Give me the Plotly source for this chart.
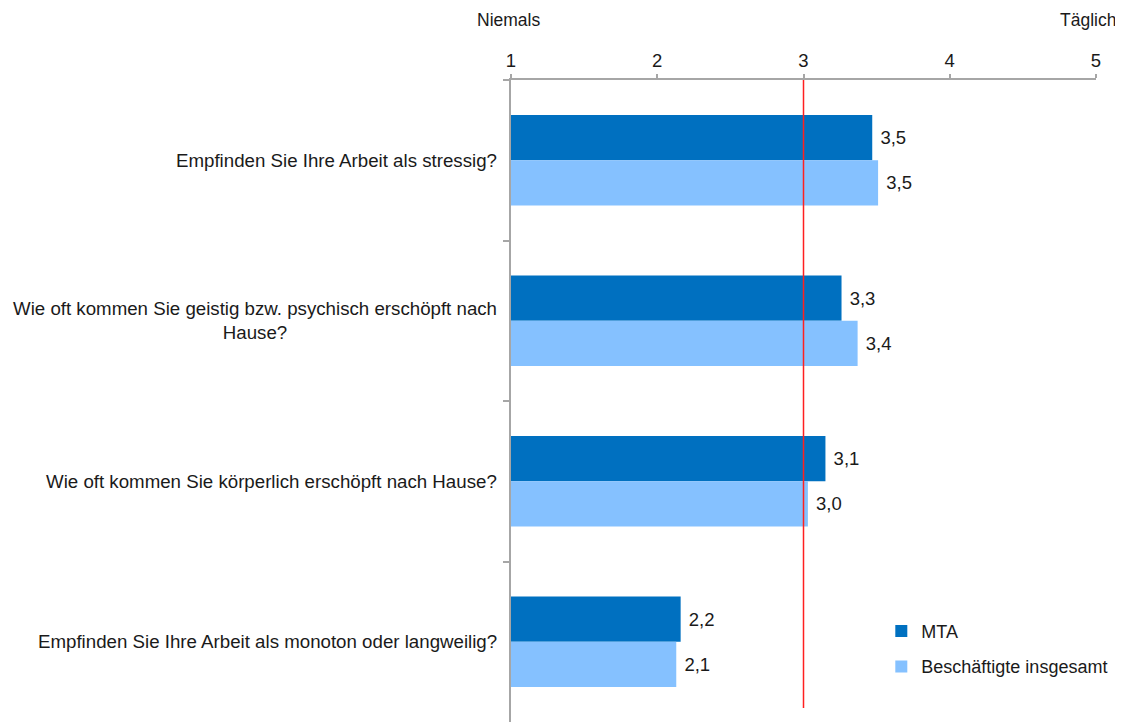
import plotly.graph_objects as go

categories = [
    "Empfinden Sie Ihre Arbeit als stressig?",
    "Wie oft kommen Sie geistig bzw. psychisch erschöpft nach<br>Hause?",
    "Wie oft kommen Sie körperlich erschöpft nach Hause?",
    "Empfinden Sie Ihre Arbeit als monoton oder langweilig?",
]
mta = [3.47, 3.26, 3.15, 2.16]
gesamt = [3.51, 3.37, 3.03, 2.13]
series_names = ["MTA", "Beschäftigte insgesamt"]
x_ticks = [1, 2, 3, 4, 5]
reference_value = 3
scale_labels = {1: "Niemals", 5: "Täglich"}

FONT = "Liberation Sans, Arial, sans-serif"
TXT = "#1a1a1a"

fig = go.Figure()
fig.add_trace(go.Bar(
    y=categories, x=mta, orientation="h", name=series_names[0],
    marker=dict(color="#0070C0", line=dict(width=0)),
    texttemplate=" %{x:.1f}", textposition="outside",
    textfont=dict(size=18.5, color=TXT, family=FONT), cliponaxis=False,
    legendgroup="a",
))
fig.add_trace(go.Bar(
    y=categories, x=gesamt, orientation="h", name=series_names[1],
    marker=dict(color="#85C1FF", line=dict(width=0)),
    texttemplate=" %{x:.1f}", textposition="outside",
    textfont=dict(size=18.5, color=TXT, family=FONT), cliponaxis=False,
    legendgroup="b",
))

fig.add_shape(type="line", xref="x", yref="paper",
              x0=reference_value, x1=reference_value, y0=0.022, y1=1,
              line=dict(color="#FF2020", width=1.5))

fig.add_annotation(x=1, xref="x", y=1.0, yref="paper", yshift=60, xshift=-3,
                   text=scale_labels[1], showarrow=False, xanchor="center", yanchor="middle",
                   font=dict(size=17.5, color=TXT, family=FONT))
fig.add_annotation(x=5, xref="x", y=1.0, yref="paper", yshift=60, xshift=22,
                   text=scale_labels[5], showarrow=False, xanchor="right", yanchor="middle",
                   font=dict(size=17.5, color=TXT, family=FONT))

for c in categories:
    fig.add_annotation(x=0, xref="paper", xshift=-12, y=c, yref="y",
                       text=c, showarrow=False, xanchor="right", yanchor="middle",
                       align="center", font=dict(size=18.7, color=TXT, family=FONT))

fig.update_layout(
    width=1115, height=714,
    paper_bgcolor="white", plot_bgcolor="white",
    margin=dict(l=503, r=27, t=72, b=0),
    barmode="group", bargap=0.435, bargroupgap=0,
    separators=",.",
    font=dict(family=FONT, size=18, color=TXT),
    showlegend=True,
    legend=dict(x=0.633, y=0.17, xanchor="left", yanchor="top",
                traceorder="grouped", tracegroupgap=9,
                font=dict(size=18, color=TXT, family=FONT),
                bgcolor="rgba(0,0,0,0)", itemwidth=30),
    xaxis=dict(range=[1, 5], side="top", tickvals=x_ticks, ticktext=[str(v) for v in x_ticks],
               showgrid=False, zeroline=False, showline=True, linecolor="#A6A6A6", linewidth=1.5,
               ticks="outside", ticklen=4, tickcolor="#A6A6A6", tickwidth=1.5,
               tickfont=dict(size=18.5, color=TXT, family=FONT), fixedrange=True),
    yaxis=dict(autorange="reversed", showticklabels=False, showgrid=False, zeroline=False,
               showline=True, linecolor="#A6A6A6", linewidth=1.5,
               ticks="outside", tickson="boundaries", ticklen=6, tickcolor="#A6A6A6", tickwidth=1.5),
)

fig.write_html("out.html")
